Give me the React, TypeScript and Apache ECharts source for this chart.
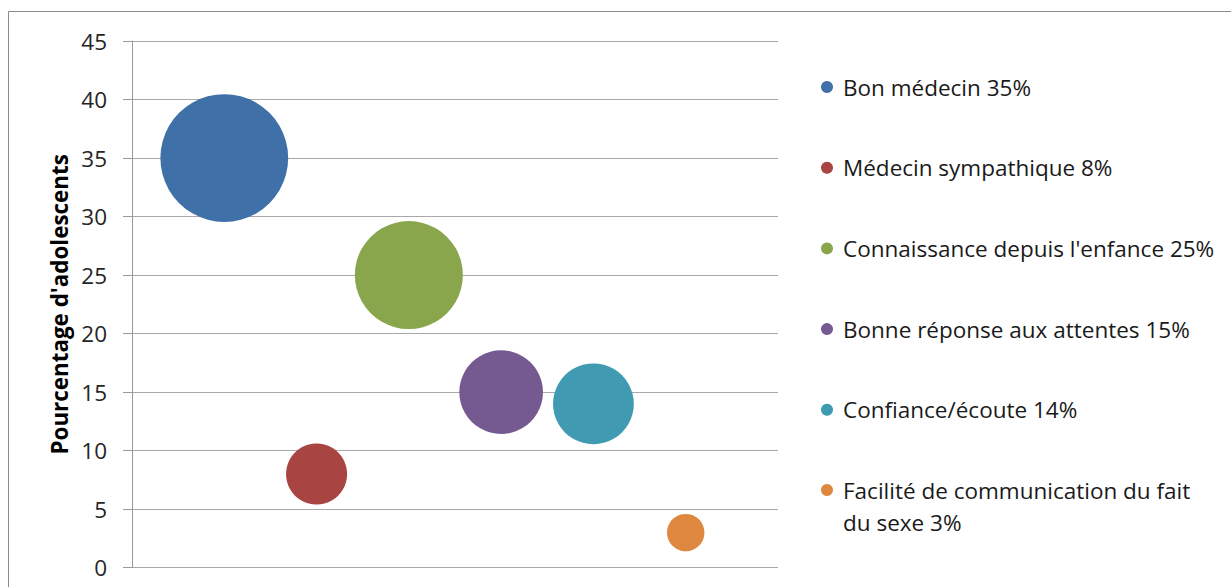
import React, { useEffect, useRef } from "react";
import * as echarts from "echarts";

const categories = [
  "Bon médecin 35%",
  "Médecin sympathique 8%",
  "Connaissance depuis l'enfance 25%",
  "Bonne réponse aux attentes 15%",
  "Confiance/écoute 14%",
  "Facilité de communication du fait du sexe 3%",
];
const xValues = [1, 2, 3, 4, 5, 6];
const yValues = [35, 8, 25, 15, 14, 3];
const bubbleSizes = [35, 8, 25, 15, 14, 3];
const colors = ["#4070A8", "#A84442", "#89A64D", "#745A91", "#3F9AB2", "#DE873E"];
const yTicks = { min: 0, max: 45, interval: 5 };

const FONT = "'Open Sans', 'Noto Sans', sans-serif";

function wrap(name: string, max: number) {
  if (name.length <= max) return name;
  const cut = name.lastIndexOf(" ", max);
  // leading empty line keeps the first text line level with the marker
  return "\n" + name.slice(0, cut) + "\n" + name.slice(cut + 1);
}

export default function App() {
  const ref = useRef<HTMLDivElement>(null);
  useEffect(() => {
    document.body.style.margin = "0";
    if (!ref.current) return;
    const chart = echarts.init(ref.current, null, { renderer: "svg" });
    const series = categories.map((name, i) => ({
      type: "scatter",
      name,
      data: [[xValues[i], yValues[i], bubbleSizes[i]]],
      symbolSize: (d: number[]) => 21.6 * Math.sqrt(d[2]),
      itemStyle: { color: colors[i], opacity: 1 },
      emphasis: { disabled: true },
    }));
    chart.setOption({
      animation: false,
      color: colors,
      graphic: [
        {
          type: "rect",
          shape: { x: 8.5, y: 11.5, width: 1400, height: 800 },
          style: { fill: "none", stroke: "#8a8a8a", lineWidth: 1 },
          silent: true,
        },
      ],
      grid: { left: 132, right: 453, top: 41, bottom: 19.3, containLabel: false },
      xAxis: { type: "value", min: 0, max: 7, show: false },
      yAxis: {
        type: "value",
        min: yTicks.min,
        max: yTicks.max,
        interval: yTicks.interval,
        name: "Pourcentage d'adolescents",
        nameLocation: "middle",
        nameGap: 53,
        nameTextStyle: { fontFamily: FONT, fontSize: 22.4, fontWeight: "bold", color: "#000" },
        axisLine: { show: true, lineStyle: { color: "#9a9a9a", width: 1 } },
        axisTick: { show: true, length: 9, lineStyle: { color: "#9a9a9a" } },
        axisLabel: { fontFamily: FONT, fontSize: 22.5, color: "#262626", margin: 25 },
        splitLine: { show: true, lineStyle: { color: "#a8a8a8", width: 1 } },
      },
      legend: [
        {
          orient: "vertical",
          left: 821,
          top: 74,
          padding: 0,
          itemWidth: 12,
          itemHeight: 12,
          itemGap: 54.7,
          icon: "circle",
          selectedMode: false,
          data: categories.slice(0, 5),
          textStyle: {
            fontFamily: FONT,
            fontSize: 22.5,
            color: "#1a1a1a",
            lineHeight: 26,
            padding: [0, 0, 0, 5],
          },
        },
        {
          orient: "vertical",
          left: 821,
          top: 442,
          padding: 0,
          itemWidth: 12,
          itemHeight: 12,
          icon: "circle",
          selectedMode: false,
          data: categories.slice(5),
          formatter: (n: string) => wrap(n, 34),
          textStyle: {
            fontFamily: FONT,
            fontSize: 22.5,
            color: "#1a1a1a",
            lineHeight: 32,
            padding: [0, 0, 0, 5],
          },
        },
      ],
      series,
    });
    return () => chart.dispose();
  }, []);
  return <div ref={ref} style={{ width: 1231, height: 587 }} />;
}
